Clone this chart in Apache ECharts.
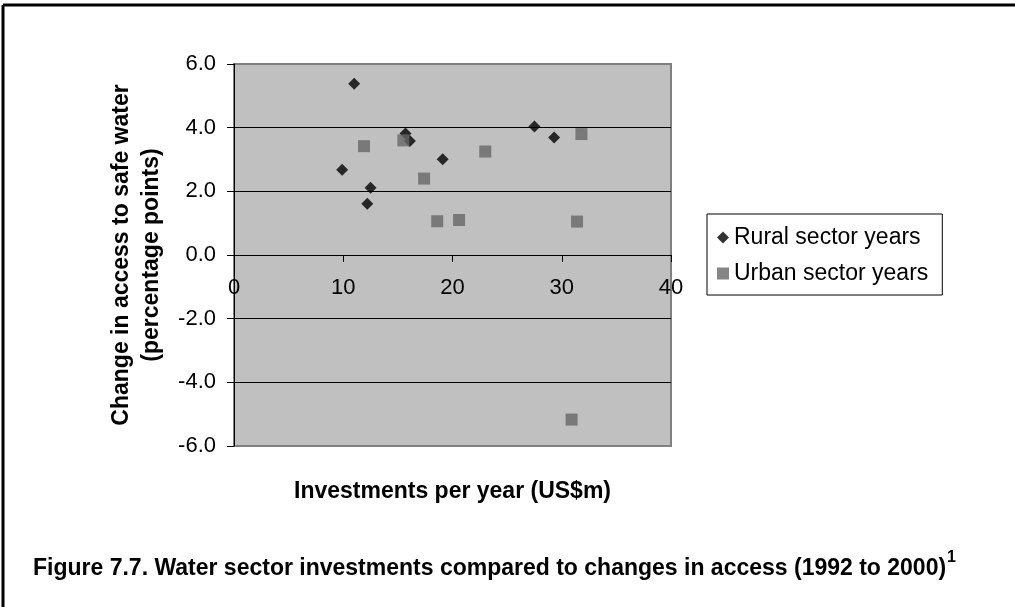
<!DOCTYPE html>
<html>
<head>
<meta charset="utf-8">
<script src="https://cdn.jsdelivr.net/npm/echarts@6/dist/echarts.min.js"></script>
<style>
  html, body { margin: 0; padding: 0; background: #fff; }
  #chart { width: 1015px; height: 607px; }
</style>
</head>
<body>
<div id="chart"></div>
<script>
// investments per year (US$m) and change in access (percentage points)
const ruralX = [9.9, 11.0, 12.2, 12.5, 15.7, 16.1, 19.1, 27.5, 29.3];
const ruralY = [2.68, 5.38, 1.61, 2.11, 3.82, 3.58, 3.01, 4.04, 3.69];
const urbanX = [11.9, 15.5, 17.4, 18.6, 20.6, 23.0, 30.9, 31.4, 31.8];
const urbanY = [3.42, 3.60, 2.40, 1.06, 1.10, 3.25, -5.17, 1.05, 3.80];
const seriesNames = ['Rural sector years', 'Urban sector years'];

const pairs = (xs, ys) => xs.map((x, i) => [x, ys[i]]);

// grid box, x axis sits on y = 0 which is half way down
const gridTop = 64, gridBottom = 161;
const gridH = 607 - gridTop - gridBottom;

const chart = echarts.init(document.getElementById('chart'));
chart.setOption({
    animation: false,
    textStyle: {fontFamily: 'Liberation Sans, Arial, sans-serif', color: '#000'},
    grid: {
        left: 234, right: 344, top: gridTop, bottom: gridBottom,
        containLabel: false,
        outerBoundsMode: 'none',
        show: true,
        backgroundColor: '#c0c0c0',
        borderColor: '#808080',
        borderWidth: 2
    },
    legend: {
        orient: 'vertical',
        left: 707,
        top: 214,
        width: 234,
        padding: [12, 14, 10, 10],
        itemGap: 13,
        itemWidth: 12,
        itemHeight: 12,
        borderColor: '#000',
        borderWidth: 1,
        backgroundColor: '#fff',
        textStyle: {fontSize: 23, color: '#000'},
        data: [
            {name: seriesNames[0], icon: 'diamond'},
            {name: seriesNames[1], icon: 'rect'}
        ]
    },
    xAxis: {
        type: 'value',
        min: 0, max: 40, interval: 10,
        position: 'bottom',
        offset: -gridH / 2,
        name: 'Investments per year (US$m)',
        nameLocation: 'middle',
        nameGap: 225,
        nameTextStyle: {fontSize: 23, fontWeight: 'bold', color: '#000'},
        axisLine: {onZero: false, lineStyle: {color: '#000', width: 1}},
        axisTick: {show: true, length: 7, lineStyle: {color: '#000'}},
        axisLabel: {fontSize: 22, color: '#000', margin: 22},
        splitLine: {show: false}
    },
    yAxis: {
        type: 'value',
        min: -6, max: 6, interval: 2,
        name: 'Change in access to safe water\n(percentage points)',
        nameLocation: 'middle',
        nameRotate: 90,
        nameGap: 67,
        nameTextStyle: {fontSize: 23, fontWeight: 'bold', color: '#000', lineHeight: 30},
        axisLine: {show: true, onZero: false, lineStyle: {color: '#000', width: 1}},
        axisTick: {show: true, length: 7, lineStyle: {color: '#000'}},
        axisLabel: {
            fontSize: 22, color: '#000', margin: 18,
            formatter: v => v.toFixed(1)
        },
        splitLine: {show: true, showMinLine: false, showMaxLine: false, lineStyle: {color: '#000', width: 1}}
    },
    series: [
        {
            name: seriesNames[0],
            type: 'scatter',
            symbol: 'diamond',
            symbolSize: [12, 12],
            itemStyle: {color: '#000'},
            data: pairs(ruralX, ruralY)
        },
        {
            name: seriesNames[1],
            type: 'scatter',
            symbol: 'rect',
            symbolSize: 12,
            itemStyle: {color: '#666666'},
            data: pairs(urbanX, urbanY)
        }
    ],
    graphic: [
        // frame, top and left edges only
        {type: 'line', shape: {x1: 3, y1: 5, x2: 1015, y2: 5}, style: {stroke: '#000', lineWidth: 3}},
        {type: 'line', shape: {x1: 3, y1: 5, x2: 3, y2: 607}, style: {stroke: '#000', lineWidth: 3}},
        {
            type: 'text', left: 33, top: 557,
            style: {
                text: 'Figure 7.7. Water sector investments compared to changes in access (1992 to 2000)',
                font: 'bold 23px "Liberation Sans", sans-serif',
                fill: '#000'
            }
        },
        {
            type: 'text', left: 947, top: 550,
            style: {text: '1', font: 'bold 16px "Liberation Sans", sans-serif', fill: '#000'}
        }
    ]
});
</script>
</body>
</html>
